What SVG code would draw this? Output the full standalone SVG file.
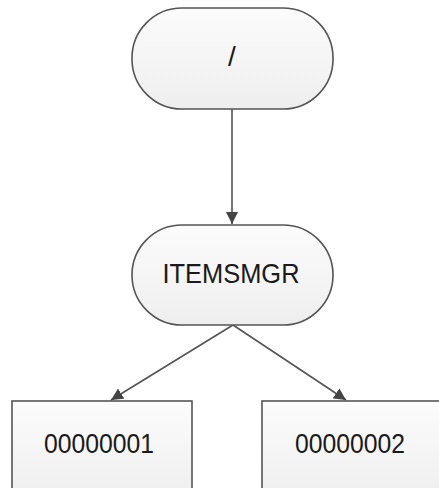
<svg xmlns="http://www.w3.org/2000/svg" width="439" height="488" viewBox="0 0 439 488">
<defs>
<linearGradient id="g" x1="0" y1="0" x2="0" y2="1">
<stop offset="0" stop-color="#fcfcfc"/>
<stop offset="1" stop-color="#eeeeee"/>
</linearGradient>
<marker id="arr" viewBox="0 0 12 12" refX="12" refY="6" markerWidth="12" markerHeight="13" markerUnits="userSpaceOnUse" orient="auto">
<path d="M0,0 L12,6 L0,12 Z" fill="#444"/>
</marker>
<style>
.node{fill:url(#g);stroke:#555;stroke-width:1.6}
.lbl{font-family:"Liberation Sans",Arial,sans-serif;font-size:28px;fill:#1a1a1a;text-anchor:middle}
.edge{stroke:#555;stroke-width:1.6;fill:none;marker-end:url(#arr)}
</style>
</defs>
<rect width="439" height="488" fill="#ffffff"/>
<g id="connectors">
<line class="edge" x1="232" y1="109" x2="232" y2="224"/>
<line class="edge" x1="233" y1="325" x2="111" y2="400"/>
<line class="edge" x1="233" y1="325" x2="346" y2="400"/>
</g>
<g id="root">
<rect class="node" x="132" y="8" width="201" height="101" rx="50" ry="50"/>
<text class="lbl" x="232" y="66">/</text>
</g>
<g id="itemsmgr">
<rect class="node" x="132" y="225" width="201" height="100" rx="50" ry="50"/>
<text class="lbl" x="231" y="283" textLength="137" lengthAdjust="spacingAndGlyphs">ITEMSMGR</text>
</g>
<g id="n00000001">
<rect class="node" x="12" y="401" width="180" height="100"/>
<text class="lbl" x="99" y="453" textLength="110" lengthAdjust="spacingAndGlyphs">00000001</text>
</g>
<g id="n00000002">
<rect class="node" x="262" y="401" width="180" height="100"/>
<text class="lbl" x="350" y="453" textLength="110" lengthAdjust="spacingAndGlyphs">00000002</text>
</g>
</svg>
